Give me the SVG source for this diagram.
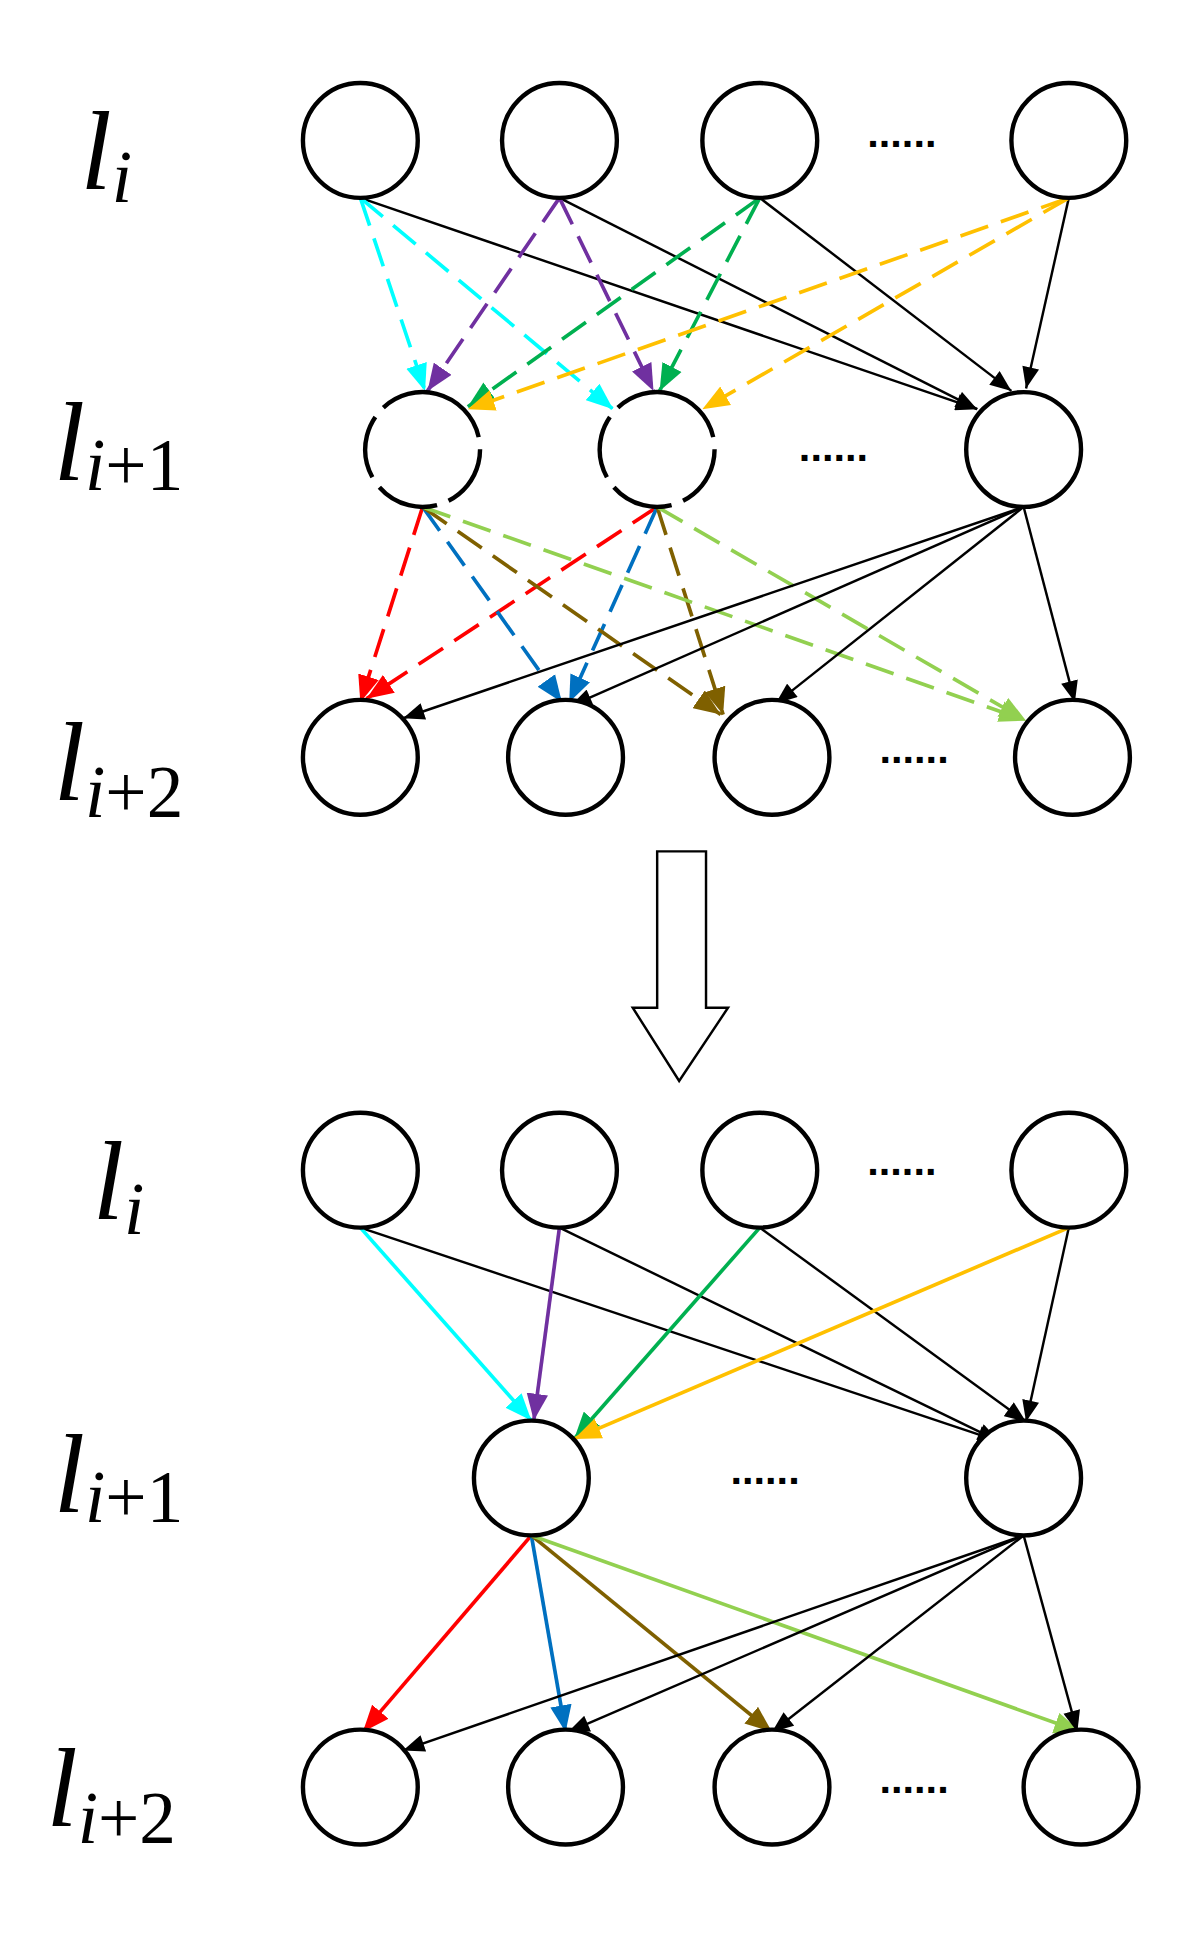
<svg xmlns="http://www.w3.org/2000/svg" width="1191" height="1958" viewBox="0 0 1191 1958">
<style>
.n{fill:#fff;stroke:#000;stroke-width:3.6}
.dn{fill:#fff;stroke:#000;stroke-width:3.6;stroke-dasharray:52 10}
.e{fill:none;stroke-width:2}
.d{fill:none;stroke-width:3;stroke-dasharray:24 11}
.s{fill:none;stroke-width:3}
.lab{font-family:"Liberation Serif","Times New Roman",serif;font-style:italic}
.dots{font-family:"Liberation Sans",sans-serif;font-weight:bold;font-size:34px}
</style>
<defs>
<marker id="mk" markerUnits="userSpaceOnUse" viewBox="0 0 20 16" refX="20" refY="8" markerWidth="18" markerHeight="14" orient="auto"><path d="M0,0L20,8L0,16z" fill="#000"/></marker>
<marker id="mc" markerUnits="userSpaceOnUse" viewBox="0 0 20 16" refX="20" refY="8" markerWidth="22" markerHeight="18" orient="auto"><path d="M0,0L20,8L0,16z" fill="#00ffff"/></marker>
<marker id="mp" markerUnits="userSpaceOnUse" viewBox="0 0 20 16" refX="20" refY="8" markerWidth="22" markerHeight="18" orient="auto"><path d="M0,0L20,8L0,16z" fill="#7030a0"/></marker>
<marker id="mg" markerUnits="userSpaceOnUse" viewBox="0 0 20 16" refX="20" refY="8" markerWidth="22" markerHeight="18" orient="auto"><path d="M0,0L20,8L0,16z" fill="#00b050"/></marker>
<marker id="mo" markerUnits="userSpaceOnUse" viewBox="0 0 20 16" refX="20" refY="8" markerWidth="22" markerHeight="18" orient="auto"><path d="M0,0L20,8L0,16z" fill="#ffc000"/></marker>
<marker id="mr" markerUnits="userSpaceOnUse" viewBox="0 0 20 16" refX="20" refY="8" markerWidth="22" markerHeight="18" orient="auto"><path d="M0,0L20,8L0,16z" fill="#ff0000"/></marker>
<marker id="mb" markerUnits="userSpaceOnUse" viewBox="0 0 20 16" refX="20" refY="8" markerWidth="22" markerHeight="18" orient="auto"><path d="M0,0L20,8L0,16z" fill="#0070c0"/></marker>
<marker id="mw" markerUnits="userSpaceOnUse" viewBox="0 0 20 16" refX="20" refY="8" markerWidth="22" markerHeight="18" orient="auto"><path d="M0,0L20,8L0,16z" fill="#7f6000"/></marker>
<marker id="ml" markerUnits="userSpaceOnUse" viewBox="0 0 20 16" refX="20" refY="8" markerWidth="22" markerHeight="18" orient="auto"><path d="M0,0L20,8L0,16z" fill="#92d050"/></marker>
</defs>
<rect width="1191" height="1958" fill="#fff"/>
<g transform="scale(1.2215)">
<g id="labels">
<text class="lab" x="66" y="155" font-size="92">l<tspan font-size="60" dy="10">i</tspan></text>
<text class="lab" x="44" y="393" font-size="92">l<tspan font-size="60" dy="8">i</tspan><tspan font-size="60" font-style="normal">+1</tspan></text>
<text class="lab" x="44" y="655" font-size="92">l<tspan font-size="60" dy="14">i</tspan><tspan font-size="60" font-style="normal">+2</tspan></text>
<text class="lab" x="76" y="998" font-size="92">l<tspan font-size="60" dy="12">i</tspan></text>
<text class="lab" x="44" y="1238" font-size="92">l<tspan font-size="60" dy="8">i</tspan><tspan font-size="60" font-style="normal">+1</tspan></text>
<text class="lab" x="38" y="1495" font-size="92">l<tspan font-size="60" dy="14">i</tspan><tspan font-size="60" font-style="normal">+2</tspan></text>
<text class="dots" x="710" y="120">......</text>
<text class="dots" x="654" y="377">......</text>
<text class="dots" x="720" y="625">......</text>
<text class="dots" x="710" y="962">......</text>
<text class="dots" x="598" y="1215">......</text>
<text class="dots" x="720" y="1468">......</text>
</g>
<g id="connectors">
<line class="e" stroke="#000" x1="295" y1="162" x2="800" y2="335" marker-end="url(#mk)"/>
<line class="e" stroke="#000" x1="458" y1="162" x2="800" y2="335" marker-end="url(#mk)"/>
<line class="e" stroke="#000" x1="622" y1="162" x2="828" y2="320" marker-end="url(#mk)"/>
<line class="e" stroke="#000" x1="875" y1="162" x2="840" y2="318" marker-end="url(#mk)"/>
<line class="d" stroke="#00ffff" x1="295" y1="162" x2="348" y2="320" marker-end="url(#mc)"/>
<line class="d" stroke="#00ffff" x1="295" y1="162" x2="502" y2="335" marker-end="url(#mc)"/>
<line class="d" stroke="#7030a0" x1="458" y1="162" x2="350" y2="320" marker-end="url(#mp)"/>
<line class="d" stroke="#7030a0" x1="458" y1="162" x2="535" y2="320" marker-end="url(#mp)"/>
<line class="d" stroke="#00b050" x1="622" y1="162" x2="383" y2="333" marker-end="url(#mg)"/>
<line class="d" stroke="#00b050" x1="622" y1="162" x2="540" y2="320" marker-end="url(#mg)"/>
<line class="d" stroke="#ffc000" x1="875" y1="162" x2="383" y2="335" marker-end="url(#mo)"/>
<line class="d" stroke="#ffc000" x1="875" y1="162" x2="575" y2="335" marker-end="url(#mo)"/>
<line class="d" stroke="#ff0000" x1="346" y1="415" x2="295" y2="575" marker-end="url(#mr)"/>
<line class="d" stroke="#ff0000" x1="538" y1="415" x2="300" y2="572" marker-end="url(#mr)"/>
<line class="d" stroke="#0070c0" x1="346" y1="415" x2="460" y2="575" marker-end="url(#mb)"/>
<line class="d" stroke="#0070c0" x1="538" y1="415" x2="466" y2="575" marker-end="url(#mb)"/>
<line class="d" stroke="#7f6000" x1="346" y1="415" x2="590" y2="585" marker-end="url(#mw)"/>
<line class="d" stroke="#7f6000" x1="538" y1="415" x2="592" y2="585" marker-end="url(#mw)"/>
<line class="d" stroke="#92d050" x1="346" y1="415" x2="840" y2="590" marker-end="url(#ml)"/>
<line class="d" stroke="#92d050" x1="538" y1="415" x2="840" y2="590" marker-end="url(#ml)"/>
<line class="e" stroke="#000" x1="838" y1="415" x2="330" y2="588" marker-end="url(#mk)"/>
<line class="e" stroke="#000" x1="838" y1="415" x2="467" y2="578" marker-end="url(#mk)"/>
<line class="e" stroke="#000" x1="838" y1="415" x2="635" y2="576" marker-end="url(#mk)"/>
<line class="e" stroke="#000" x1="838" y1="415" x2="880" y2="575" marker-end="url(#mk)"/>
<line class="e" stroke="#000" x1="295" y1="1005" x2="818" y2="1180" marker-end="url(#mk)"/>
<line class="e" stroke="#000" x1="458" y1="1005" x2="818" y2="1180" marker-end="url(#mk)"/>
<line class="e" stroke="#000" x1="622" y1="1005" x2="840" y2="1164" marker-end="url(#mk)"/>
<line class="e" stroke="#000" x1="875" y1="1005" x2="840" y2="1164" marker-end="url(#mk)"/>
<line class="s" stroke="#00ffff" x1="295" y1="1005" x2="435" y2="1163" marker-end="url(#mc)"/>
<line class="s" stroke="#7030a0" x1="458" y1="1005" x2="437" y2="1163" marker-end="url(#mp)"/>
<line class="s" stroke="#00b050" x1="622" y1="1005" x2="470" y2="1178" marker-end="url(#mg)"/>
<line class="s" stroke="#ffc000" x1="875" y1="1005" x2="470" y2="1178" marker-end="url(#mo)"/>
<line class="s" stroke="#ff0000" x1="435" y1="1257" x2="297" y2="1418" marker-end="url(#mr)"/>
<line class="s" stroke="#0070c0" x1="435" y1="1257" x2="463" y2="1418" marker-end="url(#mb)"/>
<line class="s" stroke="#7f6000" x1="435" y1="1257" x2="632" y2="1418" marker-end="url(#mw)"/>
<line class="s" stroke="#92d050" x1="435" y1="1257" x2="885" y2="1418" marker-end="url(#ml)"/>
<line class="e" stroke="#000" x1="838" y1="1257" x2="330" y2="1433" marker-end="url(#mk)"/>
<line class="e" stroke="#000" x1="838" y1="1257" x2="465" y2="1418" marker-end="url(#mk)"/>
<line class="e" stroke="#000" x1="838" y1="1257" x2="632" y2="1418" marker-end="url(#mk)"/>
<line class="e" stroke="#000" x1="838" y1="1257" x2="882" y2="1418" marker-end="url(#mk)"/>
</g>
<g id="big-arrow"><path d="M538,697H578V825H596L556,885L518,825H538Z" fill="#fff" stroke="#000" stroke-width="2"/></g>
<g id="t1"><circle class="n" cx="295" cy="115" r="47"/></g>
<g id="t2"><circle class="n" cx="458" cy="115" r="47"/></g>
<g id="t3"><circle class="n" cx="622" cy="115" r="47"/></g>
<g id="t4"><circle class="n" cx="875" cy="115" r="47"/></g>
<g id="m1"><circle class="dn" cx="346" cy="368" r="47" transform="rotate(-76 346 368)"/></g>
<g id="m2"><circle class="dn" cx="538" cy="368" r="47" transform="rotate(-76 538 368)"/></g>
<g id="m3"><circle class="n" cx="838" cy="368" r="47"/></g>
<g id="b1"><circle class="n" cx="295" cy="620" r="47"/></g>
<g id="b2"><circle class="n" cx="463" cy="620" r="47"/></g>
<g id="b3"><circle class="n" cx="632" cy="620" r="47"/></g>
<g id="b4"><circle class="n" cx="878" cy="620" r="47"/></g>
<g id="u1"><circle class="n" cx="295" cy="958" r="47"/></g>
<g id="u2"><circle class="n" cx="458" cy="958" r="47"/></g>
<g id="u3"><circle class="n" cx="622" cy="958" r="47"/></g>
<g id="u4"><circle class="n" cx="875" cy="958" r="47"/></g>
<g id="v1"><circle class="n" cx="435" cy="1210" r="47"/></g>
<g id="v2"><circle class="n" cx="838" cy="1210" r="47"/></g>
<g id="w1"><circle class="n" cx="295" cy="1463" r="47"/></g>
<g id="w2"><circle class="n" cx="463" cy="1463" r="47"/></g>
<g id="w3"><circle class="n" cx="632" cy="1463" r="47"/></g>
<g id="w4"><circle class="n" cx="885" cy="1463" r="47"/></g>
</g>
</svg>
